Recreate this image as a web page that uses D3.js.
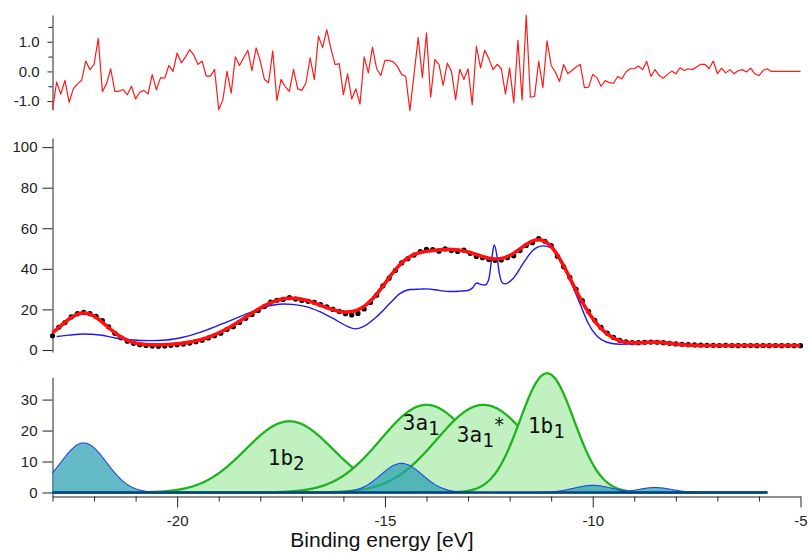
<!DOCTYPE html>
<html>
<head>
<meta charset="utf-8">
<script src="https://cdn.jsdelivr.net/npm/d3@7"></script>
<style>
  html, body { margin: 0; padding: 0; background: #fff; }
  svg { display: block; }
</style>
</head>
<body>
<svg id="chart" width="808" height="553"></svg>
<script>
// ---------- data ----------
// Fit residuals, sampled every 0.1 eV from -23 eV
const residualStart = -23;
const residualStep = 0.1;
const residuals = [
  -1.27, -0.36, -0.76, -0.30, -1.04, -0.59, -0.42, -0.30, 0.35, 0.06,
  0.24, 1.11, -0.68, -0.42, 0.09, -0.67, -0.67, -0.61, -0.79, -0.50,
  -0.93, -0.70, -0.64, -0.76, -0.11, -0.62, -0.21, -0.23, 0.20, 0.00,
  0.62, 0.29, 0.49, 0.73, 0.55, 0.23, 0.35, -0.16, -0.16, 0.07,
  -1.29, -0.95, 0.00, -0.73, 0.49, 0.20, 0.46, 0.71, 0.03, 0.79,
  0.35, -0.27, -0.38, 0.69, -0.98, -0.27, -0.51, -0.67, 0.07, -0.59,
  -0.64, -0.38, 0.46, -0.28, 1.19, 0.80, 1.41, 0.77, 0.23, 0.26,
  -0.78, -0.08, -0.93, -0.59, -1.10, 0.49, -0.05, 0.82, 0.09, -0.14,
  0.37, 0.37, 0.32, 0.17, -0.10, -0.17, -1.32, -0.10, 1.14, -0.21,
  1.30, -0.87, 0.40, 0.24, -0.47, 0.28, 0.01, -0.95, 0.07, -0.27,
  0.09, -1.12, 0.85, 0.12, 0.71, 0.43, 0.06, 0.24, 0.09, -0.76,
  0.12, -1.06, 1.05, -0.96, 1.90, -0.87, -0.84, 0.34, -0.55, 1.03,
  0.20, -0.02, -0.34, 0.23, -0.08, 0.03, 0.15, 0.24, -0.55, -0.53,
  -0.10, -0.21, -0.50, -0.31, -0.38, -0.40, -0.17, -0.25, -0.02, 0.09,
  0.09, 0.18, 0.06, 0.34, -0.17, 0.06, -0.14, -0.23, -0.10, 0.01,
  -0.08, 0.12, 0.03, 0.09, 0.06, 0.15, 0.24, 0.24, 0.09, 0.35,
  -0.08, 0.11, -0.05, 0.06, -0.08, 0.03, 0.06, -0.02, 0.11, -0.08,
  -0.14, 0.03, 0.09, 0.00, 0, 0, 0, 0, 0, 0, 0
];

// Measured photoemission intensity, every 0.15 eV from -23 eV
const measuredStart = -23;
const measuredStep = 0.15;
const measured = [
  7.0, 11.2, 13.5, 16.3, 17.9, 18.5, 17.9, 16.6, 14.5, 11.4,
  8.2, 6.0, 4.3, 3.3, 2.6, 2.2, 1.9, 1.8, 2.0, 2.3,
  2.6, 2.9, 3.4, 4.1, 4.8, 5.9, 7.0, 8.3, 10.2, 11.5,
  13.6, 15.6, 17.5, 19.4, 21.4, 23.6, 24.5, 24.9, 25.8, 25.1,
  24.4, 24.0, 23.5, 22.4, 21.3, 20.0, 19.0, 17.9, 17.3, 18.0,
  20.2, 23.4, 27.0, 31.6, 35.4, 39.2, 42.9, 45.0, 46.8, 48.5,
  49.6, 49.5, 48.7, 49.8, 49.0, 48.6, 49.2, 47.6, 46.1, 45.5,
  44.6, 44.2, 44.4, 45.5, 46.4, 49.0, 51.5, 52.9, 54.9, 53.6,
  51.5, 46.2, 41.0, 35.8, 29.9, 24.3, 19.0, 14.6, 11.1, 8.3,
  6.2, 4.8, 4.0, 3.6, 3.6, 3.8, 3.9, 3.8, 3.6, 3.3,
  3.0, 2.8, 2.6, 2.5, 2.4, 2.3, 2.3, 2.2, 2.3, 2.2,
  2.1, 2.2, 2.2, 2.1, 2.2, 2.1, 2.2, 2.1, 2.2, 2.1,
  2.1
];

// Reference spectrum (blue trace)
const referenceEnergy = [
  -22.9, -22.6, -22.26, -21.86, -21.46, -21.06, -20.66, -20.26, -19.86, -19.45,
  -19.05, -18.65, -18.25, -17.86, -17.45, -17.23, -16.9, -16.57, -16.25, -15.92,
  -15.72, -15.52, -15.2, -14.88, -14.64, -14.4, -14.15, -14.0, -13.7, -13.44,
  -13.2, -13.0, -12.9, -12.79, -12.68, -12.59, -12.5, -12.43, -12.37, -12.31,
  -12.25, -12.17, -12.11, -11.91, -11.67, -11.43, -11.19, -10.99, -10.79, -10.55,
  -10.31, -10.11, -9.9, -9.66, -9.35, -9.03, -8.54, -8.22, -7.82, -7.2,
  -6.62, -5.9, -5.17
];
const referenceIntensity = [
  6.6, 7.3, 7.9, 7.4, 5.8, 4.9, 4.6, 4.9, 6.25, 8.7,
  11.8, 15.1, 18.4, 21.4, 22.7, 22.5, 21.4, 18.9, 15.6, 11.8,
  10.4, 11.5, 16.4, 23.0, 27.8, 29.8, 30.0, 30.1, 29.4, 28.8,
  29.0, 29.3, 30.5, 33.0, 32.2, 32.0, 35.0, 45.0, 51.8, 47.0,
  38.0, 33.0, 32.6, 35.4, 42.8, 49.3, 51.3, 50.2, 44.4, 34.5,
  23.0, 13.2, 6.9, 3.8, 2.8, 3.0, 4.1, 3.8, 2.8, 2.3,
  2.1, 2.0, 2.0
];

// Fitted molecular-orbital Gaussian components (center eV, height, sigma eV)
const orbitalNames   = ["1b2", "3a1", "3a1*", "1b1"];
const orbitalCenters = [-17.3, -14.0, -12.63, -11.1];
const orbitalHeights = [23.0, 28.3, 28.3, 38.5];
const orbitalSigmas  = [1.05, 1.10, 1.12, 0.65];

// Additional satellite components
const satelliteCenters = [-22.25, -14.6, -10.0, -8.5];
const satelliteHeights = [16.0, 9.4, 2.3, 1.6];
const satelliteSigmas  = [0.55, 0.50, 0.45, 0.40];

const fitBackground = 2.2;
const componentRange = [-23, -5.8];

// Label text parts for the orbital components
const labelMain = ["1b", "3a", "3a", "1b"];
const labelSub  = ["2", "1", "1", "1"];
const labelSup  = ["", "", "*", ""];

// Axis ticks
const energyTicks = [-20, -15, -10, -5];
const energyMinorTicks = [-23, -22, -21, -19, -18, -17, -16, -14, -13, -12, -11, -9, -8, -7, -6];
const residualTicks = [-1, 0, 1];
const residualMinorTicks = [-0.5, 0.5, 1.5];
const intensityTicks = [0, 20, 40, 60, 80, 100];
const componentTicks = [0, 10, 20, 30];

// ---------- helpers ----------
function gauss(e, c, h, s) {
  const d = e - c;
  return h * Math.exp(-(d * d) / (2 * s * s));
}
function fitValue(e) {
  let v = fitBackground;
  orbitalCenters.forEach((c, i) => { v += gauss(e, c, orbitalHeights[i], orbitalSigmas[i]); });
  satelliteCenters.forEach((c, i) => { v += gauss(e, c, satelliteHeights[i], satelliteSigmas[i]); });
  return v;
}
const hyphen = d => String(d).replace("\u2212", "-");

// ---------- layout ----------
const svg = d3.select("#chart");
const FONT = "'Liberation Sans', Arial, Helvetica, sans-serif";
const INK = "#222";
const TICK_FONT = 15;

const x = d3.scaleLinear().domain([-23, -5]).range([52.5, 800.5]);
const yRes = d3.scaleLinear().domain([-1.3, 1.9]).range([110, 15]);
const ySpec = d3.scaleLinear().domain([-1, 104.5]).range([352, 138]);
const yComp = d3.scaleLinear().domain([-1.3, 37.2]).range([496.5, 377.3]);

function styleAxis(g) {
  g.attr("font-family", FONT).attr("font-size", TICK_FONT);
  g.selectAll(".domain").attr("stroke", INK).attr("stroke-width", 1);
  g.selectAll(".tick line").attr("stroke", INK).attr("stroke-width", 1);
  g.selectAll(".tick text").attr("fill", INK);
}

const axisX = 52.5;

// residual panel axis
svg.append("g").attr("transform", `translate(${axisX},0)`)
  .call(d3.axisLeft(yRes).tickValues(residualTicks).tickSize(5).tickSizeOuter(0).tickPadding(8)
    .tickFormat(d => d3.format(".1f")(d).replace("\u2212", "-")))
  .call(styleAxis);
svg.append("g").attr("transform", `translate(${axisX},0)`)
  .call(d3.axisLeft(yRes).tickValues(residualMinorTicks).tickSize(4).tickFormat(""))
  .call(g => g.select(".domain").remove())
  .call(styleAxis);

// spectrum panel axis
svg.append("g").attr("transform", `translate(${axisX},0)`)
  .call(d3.axisLeft(ySpec).tickValues(intensityTicks).tickSize(10).tickSizeOuter(0).tickPadding(5)
    .tickFormat(hyphen))
  .call(styleAxis);

// component panel axis
svg.append("g").attr("transform", `translate(${axisX},0)`)
  .call(d3.axisLeft(yComp).tickValues(componentTicks).tickSize(10).tickSizeOuter(0).tickPadding(5)
    .tickFormat(hyphen))
  .call(styleAxis);

// energy axis
svg.append("g").attr("transform", "translate(0,496.5)")
  .call(d3.axisBottom(x).tickValues(energyTicks).tickSize(11).tickSizeOuter(0).tickPadding(8)
    .tickFormat(hyphen))
  .call(styleAxis);
svg.append("g").attr("transform", "translate(0,496.5)")
  .call(d3.axisBottom(x).tickValues(energyMinorTicks).tickSize(5).tickFormat(""))
  .call(g => g.select(".domain").remove())
  .call(styleAxis);

svg.append("text")
  .attr("x", 382).attr("y", 547)
  .attr("text-anchor", "middle")
  .attr("font-family", FONT).attr("font-size", 21).attr("fill", "#111")
  .text("Binding energy [eV]");

// ---------- residual panel ----------
svg.append("path")
  .datum(residuals)
  .attr("fill", "none")
  .attr("stroke", "#ff1a1a")
  .attr("stroke-width", 1.2)
  .attr("stroke-linejoin", "round")
  .attr("d", d3.line()
    .x((d, i) => x(residualStart + i * residualStep))
    .y(d => yRes(d)));

// ---------- spectrum panel ----------
const measuredPts = measured.map((v, i) => ({ e: measuredStart + i * measuredStep, v }));
svg.append("g").selectAll("circle")
  .data(measuredPts)
  .join("circle")
  .attr("cx", d => x(d.e))
  .attr("cy", d => ySpec(d.v))
  .attr("r", 2.6)
  .attr("fill", "#000");

const referencePts = referenceEnergy.map((e, i) => ({ e, v: referenceIntensity[i] }));
svg.append("path")
  .datum(referencePts)
  .attr("fill", "none")
  .attr("stroke", "#1a1aee")
  .attr("stroke-width", 1.4)
  .attr("d", d3.line().curve(d3.curveMonotoneX)
    .x(d => x(d.e)).y(d => ySpec(d.v)));

const fitGrid = d3.range(0, 901).map(i => -23 + i * 0.02);
svg.append("path")
  .datum(fitGrid)
  .attr("fill", "none")
  .attr("stroke", "#ff1010")
  .attr("stroke-width", 3.6)
  .attr("stroke-linejoin", "round")
  .attr("d", d3.line().x(e => x(e)).y(e => ySpec(fitValue(e))));

// ---------- component panel ----------
const compGrid = d3.range(componentRange[0], componentRange[1] + 1e-9, 0.02);
const compArea = (c, h, s) => d3.area()
  .x(e => x(e))
  .y0(yComp(0))
  .y1(e => yComp(gauss(e, c, h, s)));
const compLine = (c, h, s) => d3.line()
  .x(e => x(e))
  .y(e => yComp(gauss(e, c, h, s)));

const comps = svg.append("g");
orbitalCenters.forEach((c, i) => {
  const h = orbitalHeights[i], s = orbitalSigmas[i];
  comps.append("path").datum(compGrid)
    .attr("fill", "#c1f1c1")
    .attr("d", compArea(c, h, s));
  comps.append("path").datum(compGrid)
    .attr("fill", "none")
    .attr("stroke", "#1db41d")
    .attr("stroke-width", 2.3)
    .attr("d", compLine(c, h, s));
});
satelliteCenters.forEach((c, i) => {
  const h = satelliteHeights[i], s = satelliteSigmas[i];
  comps.append("path").datum(compGrid)
    .attr("fill", "rgb(40,160,178)")
    .attr("fill-opacity", 0.72)
    .attr("d", compArea(c, h, s));
  comps.append("path").datum(compGrid)
    .attr("fill", "none")
    .attr("stroke", "#2546e6")
    .attr("stroke-width", 1.1)
    .attr("d", compLine(c, h, s));
});
comps.append("line")
  .attr("x1", x(componentRange[0])).attr("x2", x(componentRange[1]))
  .attr("y1", yComp(0)).attr("y2", yComp(0))
  .attr("stroke", "#0c3f8e").attr("stroke-width", 2.4);

// orbital labels placed in data coordinates
const labelPos = [[-17.82, 8.9], [-14.57, 20.2], [-13.27, 16.3], [-11.56, 19.2]];
labelMain.forEach((m, i) => {
  const t = svg.append("text")
    .attr("x", x(labelPos[i][0]))
    .attr("y", yComp(labelPos[i][1]))
    .attr("font-family", "'DejaVu Sans Mono', monospace")
    .attr("font-size", 21)
    .attr("fill", "#111");
  t.append("tspan").text(m);
  t.append("tspan").attr("dy", 5).attr("font-size", 19).text(labelSub[i]);
  if (labelSup[i]) t.append("tspan").attr("dy", -16).attr("font-size", 19).text(labelSup[i]);
});
</script>
</body>
</html>
